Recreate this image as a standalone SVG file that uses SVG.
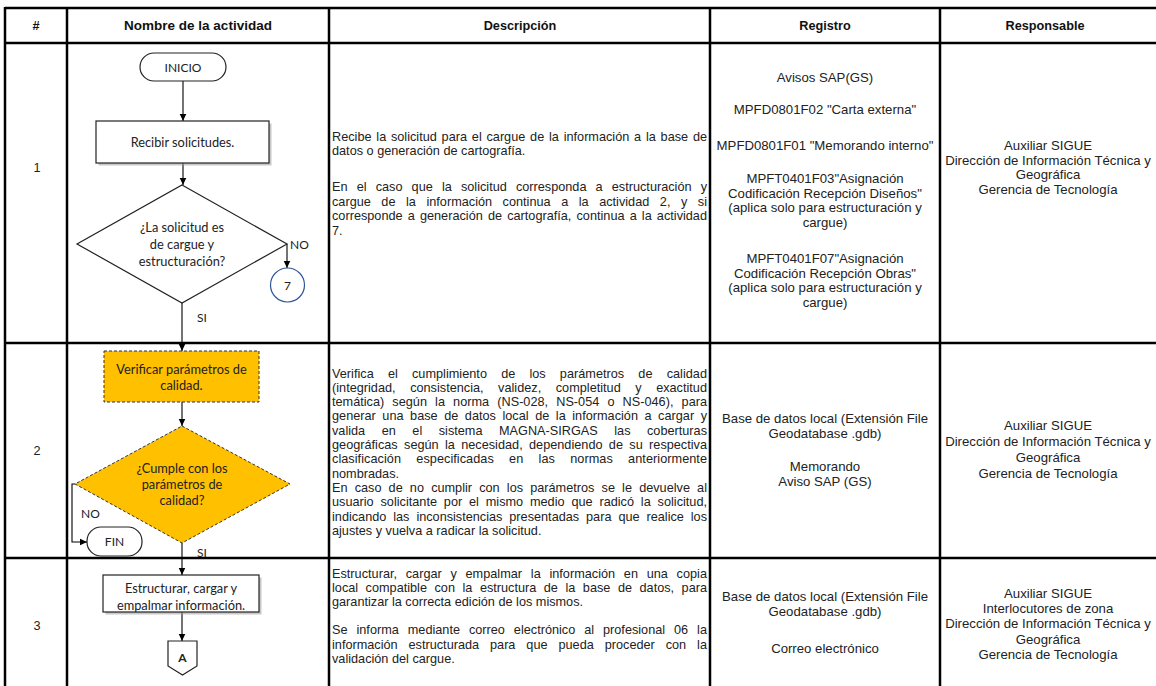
<svg xmlns="http://www.w3.org/2000/svg" width="1156" height="686" viewBox="0 0 1156 686">
<style>
.grid{stroke:#000;stroke-width:2.5;fill:none}
.hdr{font-family:"Liberation Sans",Arial,sans-serif;font-weight:bold;font-size:12.7px;text-anchor:middle;fill:#111}
.t{font-family:"Liberation Sans",Arial,sans-serif;font-size:12.7px;fill:#222}
.r{font-family:"Liberation Sans",Arial,sans-serif;font-size:13.2px;fill:#222;text-anchor:middle}
.c{text-anchor:middle}
.fc{font-family:Lato,"Liberation Sans",sans-serif;font-size:12.8px;text-anchor:middle;fill:#222}
.lbl{font-family:Lato,"Liberation Sans",sans-serif;font-size:12px;fill:#222}
.box{fill:#fff;stroke:#222;stroke-width:1.2}
.shadow{fill:#9a9a9a;opacity:0.55}
.dash{fill:#FFC000;stroke:#333;stroke-width:1;stroke-dasharray:3 2}
.conn{stroke:#000;stroke-width:1.1;fill:none}
</style>
<defs>
<marker id="arr" markerUnits="userSpaceOnUse" markerWidth="8" markerHeight="8" refX="7.5" refY="4" orient="auto"><path d="M0,0.5 L7.5,4 L0,7.5 z" fill="#000"/></marker>
</defs>
<rect width="1156" height="686" fill="#fff"/>

<g id="table">
<line class="grid" x1="5" y1="8" x2="1156" y2="8"/>
<line class="grid" x1="5" y1="43" x2="1156" y2="43"/>
<line class="grid" x1="5" y1="343" x2="1156" y2="343"/>
<line class="grid" x1="5" y1="558" x2="1156" y2="558"/>
<line class="grid" x1="5" y1="7" x2="5" y2="686"/>
<line class="grid" x1="67" y1="7" x2="67" y2="686"/>
<line class="grid" x1="329" y1="7" x2="329" y2="686"/>
<line class="grid" x1="710" y1="7" x2="710" y2="686"/>
<line class="grid" x1="940" y1="7" x2="940" y2="686"/>
</g>

<g id="header">
<text class="hdr" x="36" y="30">#</text>
<text class="hdr" x="198" y="30" style="font-size:13.5px">Nombre de la actividad</text>
<text class="hdr" x="520" y="30">Descripción</text>
<text class="hdr" x="825" y="30">Registro</text>
<text class="hdr" x="1045" y="30">Responsable</text>
</g>

<g id="row-numbers">
<text class="t c" x="37" y="172">1</text>
<text class="t c" x="37" y="455">2</text>
<text class="t c" x="37" y="630">3</text>
</g>

<g id="connectors">
<line class="conn" x1="183" y1="81" x2="183" y2="121" marker-end="url(#arr)"/>
<line class="conn" x1="183" y1="163" x2="183" y2="185" marker-end="url(#arr)"/>
<polyline class="conn" points="287,244 287,268" marker-end="url(#arr)"/>
<line class="conn" x1="182" y1="303" x2="182" y2="351" marker-end="url(#arr)"/>
<line class="conn" x1="182" y1="402" x2="182" y2="426" marker-end="url(#arr)"/>
<polyline class="conn" points="75,484 72,484 72,542 87,542" marker-end="url(#arr)"/>
<line class="conn" x1="182" y1="543" x2="182" y2="575" marker-end="url(#arr)"/>
<line class="conn" x1="182" y1="612" x2="182" y2="641" marker-end="url(#arr)"/>
<text class="lbl" x="290" y="248.5">NO</text>
<text class="lbl" x="197" y="321.5">SI</text>
<text class="lbl" x="81" y="517.5">NO</text>
<text class="lbl" x="197" y="557">SI</text>
</g>

<g id="n-inicio">
<rect class="box" x="140" y="53" width="86" height="28" rx="14"/>
<text class="fc" x="183" y="71.5" style="font-size:12px">INICIO</text>
</g>

<g id="n-recibir">
<rect class="shadow" x="98.5" y="123.5" width="173" height="42"/>
<rect class="box" x="96" y="121" width="173" height="42"/>
<text class="fc" x="182.5" y="146.5">Recibir solicitudes.</text>
</g>

<g id="n-decision1">
<polygon class="box" points="182,185 287,244 182,303 77,244"/>
<text class="fc" x="182" y="231.5">¿La solicitud es</text>
<text class="fc" x="182" y="248.5">de cargue y</text>
<text class="fc" x="182" y="265.5">estructuración?</text>
</g>

<g id="n-conn7">
<circle cx="287.5" cy="285" r="17" fill="#fff" stroke="#2F5597" stroke-width="1.2"/>
<text class="fc" x="287.5" y="289.5" style="font-size:12px">7</text>
</g>

<g id="n-verificar">
<rect class="dash" x="104" y="351" width="155" height="51"/>
<text class="fc" x="181.5" y="373.5">Verificar parámetros de</text>
<text class="fc" x="181.5" y="389.5">calidad.</text>
</g>

<g id="n-decision2">
<polygon class="dash" points="182,426 290,484 182,543 75,484"/>
<text class="fc" x="182" y="472.5">¿Cumple con los</text>
<text class="fc" x="182" y="488.5">parámetros de</text>
<text class="fc" x="182" y="504.5">calidad?</text>
</g>

<g id="n-fin">
<rect class="box" x="87" y="527" width="55" height="29" rx="14"/>
<text class="fc" x="114.5" y="546" style="font-size:12px">FIN</text>
</g>

<g id="n-estructurar">
<rect class="shadow" x="105.5" y="577.5" width="156" height="37"/>
<rect class="box" x="103" y="575" width="156" height="37"/>
<text class="fc" x="181" y="592.5">Estructurar, cargar y</text>
<text class="fc" x="181" y="609.5">empalmar información.</text>
</g>

<g id="n-offpage-a">
<polygon class="box" points="168,641 197,641 197,666 182.5,675 168,666"/>
<text class="fc" x="182.5" y="662" style="font-weight:bold;font-size:12px">A</text>
</g>

<g id="desc1">
<text class="t" x="332" y="141" textLength="375" lengthAdjust="spacing" style="word-spacing:1.25px">Recibe la solicitud para el cargue de la información a la base de</text>
<text class="t" x="332" y="155">datos o generación de cartografía.</text>
<text class="t" x="332" y="191" textLength="375" lengthAdjust="spacing" style="word-spacing:5.6px">En el caso que la solicitud corresponda a estructuración y</text>
<text class="t" x="332" y="206" textLength="375" lengthAdjust="spacing" style="word-spacing:7px">cargue de la información continua a la actividad 2, y si</text>
<text class="t" x="332" y="220" textLength="375" lengthAdjust="spacing" style="word-spacing:1.6px">corresponde a generación de cartografía, continua a la actividad</text>
<text class="t" x="332" y="235">7.</text>
</g>

<g id="desc2">
<text class="t" x="332" y="377.5" textLength="375" lengthAdjust="spacing" style="word-spacing:10.6px">Verifica el cumplimiento de los parámetros de calidad</text>
<text class="t" x="332" y="391.8" textLength="375" lengthAdjust="spacing" style="word-spacing:11px">(integridad, consistencia, validez, completitud y exactitud</text>
<text class="t" x="332" y="406.1" textLength="375" lengthAdjust="spacing" style="word-spacing:4.6px">temática) según la norma (NS-028, NS-054 o NS-046), para</text>
<text class="t" x="332" y="420.4" textLength="375" lengthAdjust="spacing" style="word-spacing:3px">generar una base de datos local de la información a cargar y</text>
<text class="t" x="332" y="434.7" textLength="375" lengthAdjust="spacing" style="word-spacing:13px">valida en el sistema MAGNA-SIRGAS las coberturas</text>
<text class="t" x="332" y="449" textLength="375" lengthAdjust="spacing" style="word-spacing:2.8px">geográficas según la necesidad, dependiendo de su respectiva</text>
<text class="t" x="332" y="463.3" textLength="375" lengthAdjust="spacing" style="word-spacing:11.7px">clasificación especificadas en las normas anteriormente</text>
<text class="t" x="332" y="477.6">nombradas.</text>
<text class="t" x="332" y="491.9" textLength="375" lengthAdjust="spacing" style="word-spacing:3.6px">En caso de no cumplir con los parámetros se le devuelve al</text>
<text class="t" x="332" y="506.2" textLength="375" lengthAdjust="spacing" style="word-spacing:3.3px">usuario solicitante por el mismo medio que radicó la solicitud,</text>
<text class="t" x="332" y="520.5" textLength="375" lengthAdjust="spacing" style="word-spacing:3.4px">indicando las inconsistencias presentadas para que realice los</text>
<text class="t" x="332" y="534.8">ajustes y vuelva a radicar la solicitud.</text>
</g>

<g id="desc3">
<text class="t" x="332" y="577.5" textLength="375" lengthAdjust="spacing" style="word-spacing:5.15px">Estructurar, cargar y empalmar la información en una copia</text>
<text class="t" x="332" y="591.8" textLength="375" lengthAdjust="spacing" style="word-spacing:4px">local compatible con la estructura de la base de datos, para</text>
<text class="t" x="332" y="606">garantizar la correcta edición de los mismos.</text>
<text class="t" x="332" y="634.3" textLength="375" lengthAdjust="spacing" style="word-spacing:5.4px">Se informa mediante correo electrónico al profesional 06 la</text>
<text class="t" x="332" y="648.6" textLength="375" lengthAdjust="spacing" style="word-spacing:7.4px">información estructurada para que pueda proceder con la</text>
<text class="t" x="332" y="663">validación del cargue.</text>
</g>

<g id="reg1">
<text class="r" x="825" y="82">Avisos SAP(GS)</text>
<text class="r" x="825" y="113.5">MPFD0801F02 "Carta externa"</text>
<text class="r" x="825" y="150">MPFD0801F01 "Memorando interno"</text>
<text class="r" x="825" y="183">MPFT0401F03"Asignación</text>
<text class="r" x="825" y="197.5">Codificación Recepción Diseños"</text>
<text class="r" x="825" y="212">(aplica solo para estructuración y</text>
<text class="r" x="825" y="226.5">cargue)</text>
<text class="r" x="825" y="263">MPFT0401F07"Asignación</text>
<text class="r" x="825" y="277.5">Codificación Recepción Obras"</text>
<text class="r" x="825" y="292">(aplica solo para estructuración y</text>
<text class="r" x="825" y="306.5">cargue)</text>
</g>

<g id="resp1">
<text class="r" x="1048" y="150">Auxiliar SIGUE</text>
<text class="r" x="1048" y="164.5">Dirección de Información Técnica y</text>
<text class="r" x="1048" y="179">Geográfica</text>
<text class="r" x="1048" y="193.5">Gerencia de Tecnología</text>
</g>

<g id="reg2">
<text class="r" x="825" y="422.5">Base de datos local (Extensión File</text>
<text class="r" x="825" y="437.5">Geodatabase .gdb)</text>
<text class="r" x="825" y="471">Memorando</text>
<text class="r" x="825" y="486">Aviso SAP (GS)</text>
</g>

<g id="resp2">
<text class="r" x="1048" y="430">Auxiliar SIGUE</text>
<text class="r" x="1048" y="446">Dirección de Información Técnica y</text>
<text class="r" x="1048" y="462">Geográfica</text>
<text class="r" x="1048" y="478">Gerencia de Tecnología</text>
</g>

<g id="reg3">
<text class="r" x="825" y="601">Base de datos local (Extensión File</text>
<text class="r" x="825" y="616">Geodatabase .gdb)</text>
<text class="r" x="825" y="652.5">Correo electrónico</text>
</g>

<g id="resp3">
<text class="r" x="1048" y="597.5">Auxiliar SIGUE</text>
<text class="r" x="1048" y="612.5">Interlocutores de zona</text>
<text class="r" x="1048" y="627.5">Dirección de Información Técnica y</text>
<text class="r" x="1048" y="644">Geográfica</text>
<text class="r" x="1048" y="659">Gerencia de Tecnología</text>
</g>
</svg>
